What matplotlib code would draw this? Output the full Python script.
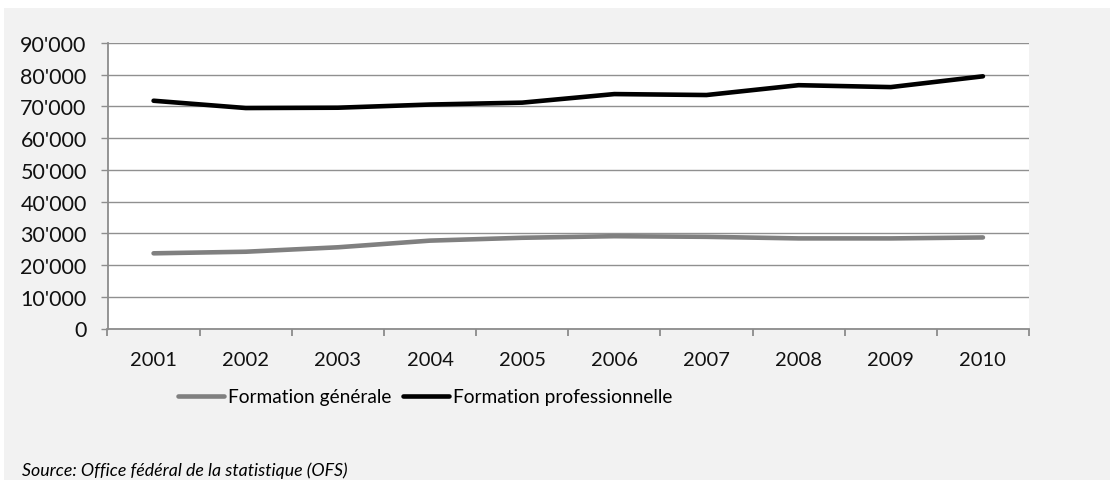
import matplotlib

matplotlib.use("Agg")
import matplotlib.pyplot as plt
from matplotlib.patches import Rectangle

years = ["2001", "2002", "2003", "2004", "2005", "2006", "2007", "2008", "2009", "2010"]
generale = [23700, 24200, 25600, 27700, 28600, 29100, 28900, 28400, 28400, 28700]
professionnelle = [71800, 69500, 69600, 70600, 71200, 73900, 73600, 76700, 76100, 79500]
y_ticks = list(range(0, 90001, 10000))
y_labels = ["0" if v == 0 else f"{v // 1000}'000" for v in y_ticks]

plt.rcParams["font.family"] = ["Lato", "DejaVu Sans"]

W, H = 1110, 481
fig = plt.figure(figsize=(W / 100, H / 100), dpi=100)
fig.patches.append(Rectangle((4 / W, 0), 1, (H - 9) / H, transform=fig.transFigure,
                             facecolor="#f2f2f2", edgecolor="none", zorder=-1))

ax = fig.add_axes([107.5 / W, 1 - 329.5 / H, (1029 - 107.5) / W, (329.5 - 44) / H])
ax.set_facecolor("white")

x = list(range(len(years)))
ax.plot(x, generale, color="#808080", lw=3.3, solid_capstyle="round",
        solid_joinstyle="round", label="Formation générale", zorder=3)
ax.plot(x, professionnelle, color="black", lw=3.3, solid_capstyle="round",
        solid_joinstyle="round", label="Formation professionnelle", zorder=3)

ax.set_ylim(0, 90000)
ax.set_yticks(y_ticks)
ax.set_yticklabels(y_labels)
ax.set_xlim(-0.5, len(years) - 0.5)
ax.set_xticks([i - 0.5 for i in range(len(years) + 1)])
ax.set_xticklabels([])
ax.set_xticks(x, minor=True)
ax.set_xticklabels(years, minor=True)

ax.grid(axis="y", color="#909090", lw=1.0)
ax.set_axisbelow(True)
for s in ["top", "right"]:
    ax.spines[s].set_visible(False)
for s in ["left", "bottom"]:
    ax.spines[s].set_color("#8c8c8c")
    ax.spines[s].set_linewidth(1.3)

ax.tick_params(axis="y", which="major", length=5, width=1.0, color="#8c8c8c",
               pad=10, labelsize=15.5, labelcolor="#111111")
ax.tick_params(axis="x", which="major", length=5, width=1.3, color="#8c8c8c")
ax.tick_params(axis="x", which="minor", length=0, pad=16, labelsize=14.5,
               labelcolor="#111111")

fig.legend(loc="center left", bbox_to_anchor=(178 / W, 1 - 398 / H), ncol=2,
           frameon=False, fontsize=13.8, handlelength=2.4, handletextpad=0.2,
           columnspacing=0.6, borderaxespad=0, borderpad=0)

fig.text(22 / W, 1 - 471 / H, "Source: Office fédéral de la statistique (OFS)",
         fontsize=12.8, style="italic", va="center", ha="left")

fig.savefig("out.png", dpi=100)
